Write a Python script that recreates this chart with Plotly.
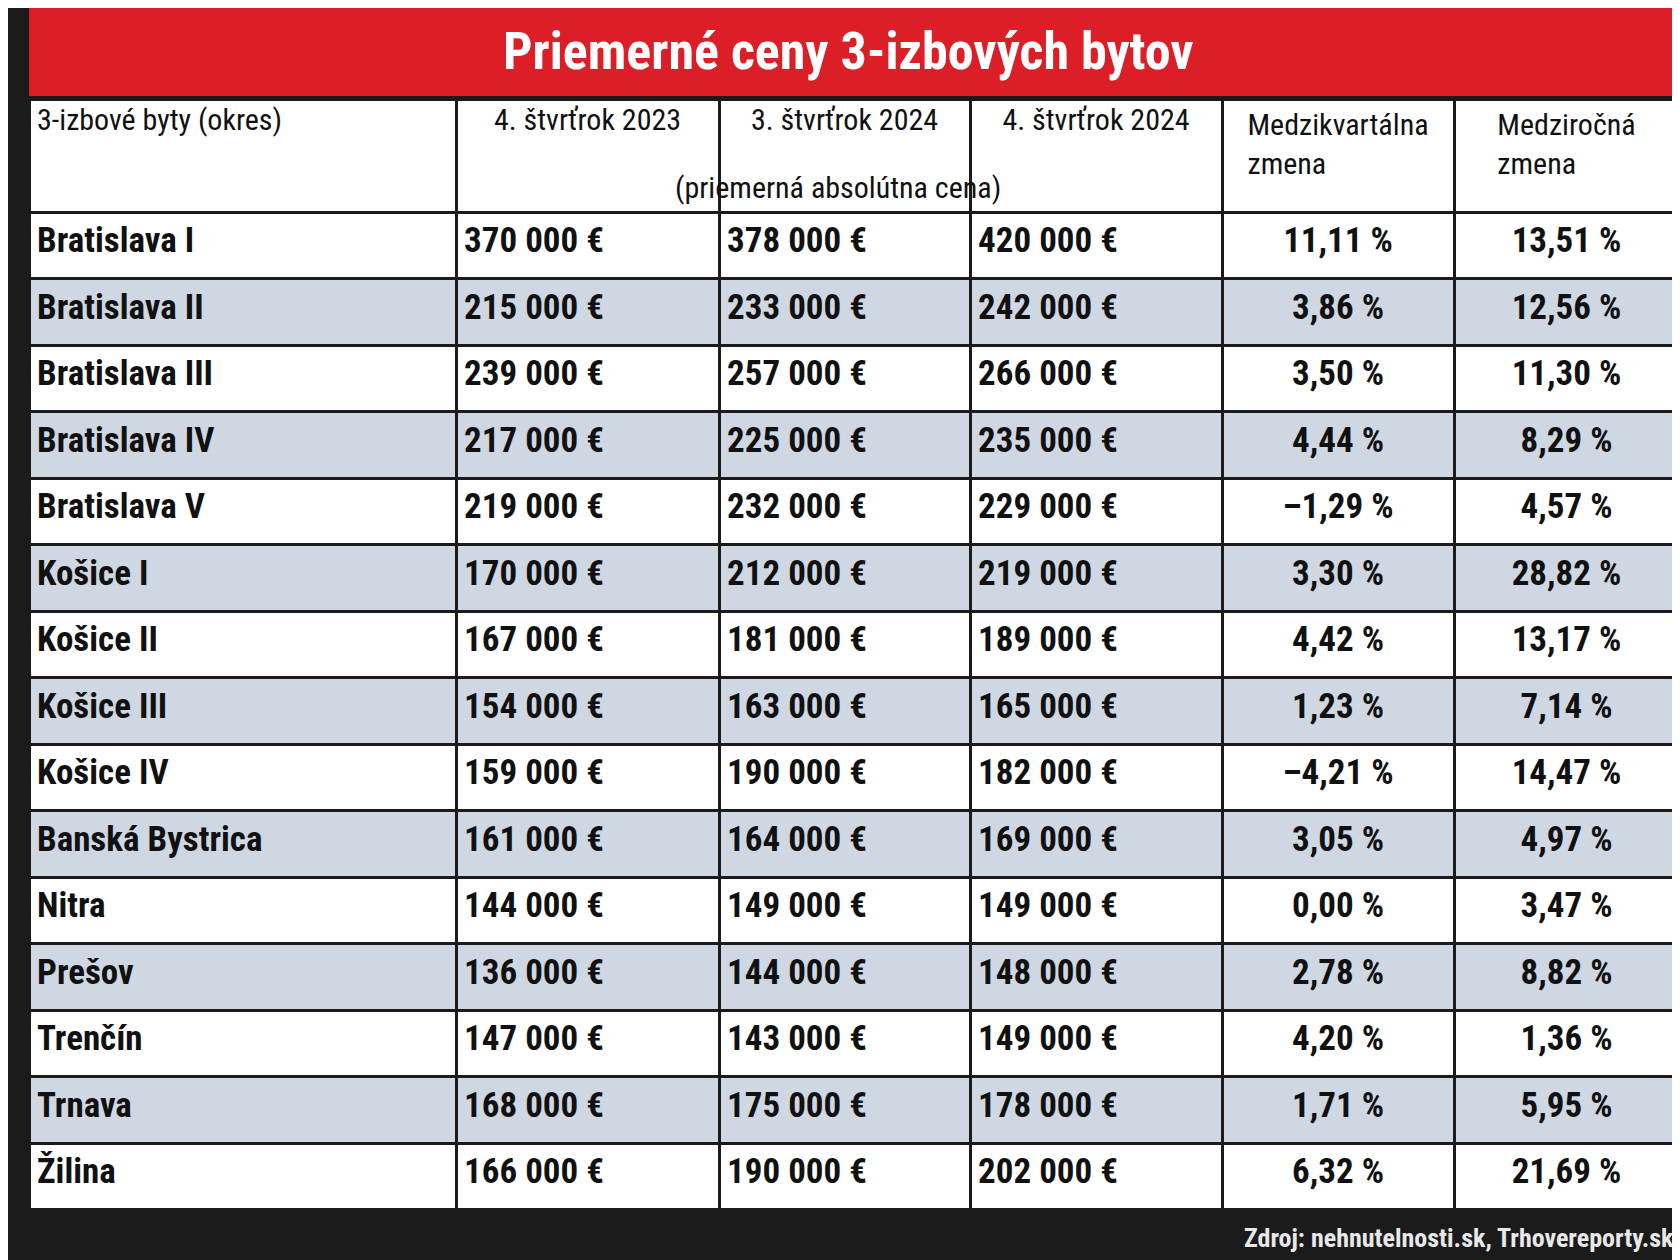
import plotly.graph_objects as go

# Údaje z tabuľky
okresy = ["Bratislava I", "Bratislava II", "Bratislava III", "Bratislava IV", "Bratislava V",
          "Košice I", "Košice II", "Košice III", "Košice IV", "Banská Bystrica",
          "Nitra", "Prešov", "Trenčín", "Trnava", "Žilina"]
q4_2023 = [370000, 215000, 239000, 217000, 219000, 170000, 167000, 154000, 159000, 161000,
           144000, 136000, 147000, 168000, 166000]
q3_2024 = [378000, 233000, 257000, 225000, 232000, 212000, 181000, 163000, 190000, 164000,
           149000, 144000, 143000, 175000, 190000]
q4_2024 = [420000, 242000, 266000, 235000, 229000, 219000, 189000, 165000, 182000, 169000,
           149000, 148000, 149000, 178000, 202000]
medzikv = [11.11, 3.86, 3.50, 4.44, -1.29, 3.30, 4.42, 1.23, -4.21, 3.05, 0.00, 2.78, 4.20, 1.71, 6.32]
medzir = [13.51, 12.56, 11.30, 8.29, 4.57, 28.82, 13.17, 7.14, 14.47, 4.97, 3.47, 8.82, 1.36, 5.95, 21.69]

hlavicka = ["3-izbové byty (okres)", "4. štvrťrok 2023", "3. štvrťrok 2024", "4. štvrťrok 2024",
            "Medzikvartálna<br>zmena", "Medziročná<br>zmena"]


def eur(v):
    return f"{v:,}".replace(",", " ") + " €"


def pct(v):
    return (f"{v:.2f}".replace(".", ",") + " %").replace("-", "–")


FONT = "Liberation Sans Narrow, Roboto Condensed, Roboto, sans-serif"
W, H = 1680, 1260
fills = [["#ffffff" if i % 2 == 0 else "#cfd7e3" for i in range(len(okresy))]] * 6

fig = go.Figure(go.Table(
    columnwidth=[427, 263, 251, 252, 232, 225],
    header=dict(values=hlavicka, fill_color="white", line_color="#1b1b1b", line_width=3,
                align=["left", "center", "center", "center", "center", "center"],
                font=dict(family=FONT, size=30, color="#111"), height=113),
    cells=dict(values=[[f"<b>{o}</b>" for o in okresy],
                       [f"<b>{eur(v)}</b>" for v in q4_2023],
                       [f"<b>{eur(v)}</b>" for v in q3_2024],
                       [f"<b>{eur(v)}</b>" for v in q4_2024],
                       [f"<b>{pct(v)}</b>" for v in medzikv],
                       [f"<b>{pct(v)}</b>" for v in medzir]],
               fill_color=fills, line_color="#1b1b1b", line_width=3,
               align=["left", "left", "left", "left", "center", "center"],
               font=dict(family=FONT, size=35, color="#111"), height=66.5),
    domain=dict(x=[21 / W, 1671 / W], y=[0.0, 1 - 91 / H]),
))

fig.add_shape(type="rect", xref="paper", yref="paper", x0=21 / W, x1=1671 / W,
              y0=1 - 88 / H, y1=1, fillcolor="#dc1f26", line_width=0)
fig.add_annotation(text="<b>Priemerné ceny 3-izbových bytov</b>", xref="paper", yref="paper",
                   x=0.5, y=1 - 44 / H, yanchor="middle", showarrow=False,
                   font=dict(family=FONT, size=52, color="white"))
fig.add_annotation(text="(priemerná absolútna cena)", xref="paper", yref="paper",
                   x=830 / W, y=1 - 180 / H, yanchor="middle", showarrow=False,
                   font=dict(family=FONT, size=30, color="#111"))
fig.add_annotation(text="<b>Zdroj: nehnutelnosti.sk, Trhovereporty.sk</b>", xref="paper", yref="paper",
                   x=1668 / W, y=1 - 1230 / H, xanchor="right", yanchor="middle", showarrow=False,
                   font=dict(family=FONT, size=26, color="#e8e8e8"))

fig.update_layout(width=W, height=H, margin=dict(l=0, r=0, t=0, b=0),
                  paper_bgcolor="#1b1b1b")
fig.write_html("out.html")
